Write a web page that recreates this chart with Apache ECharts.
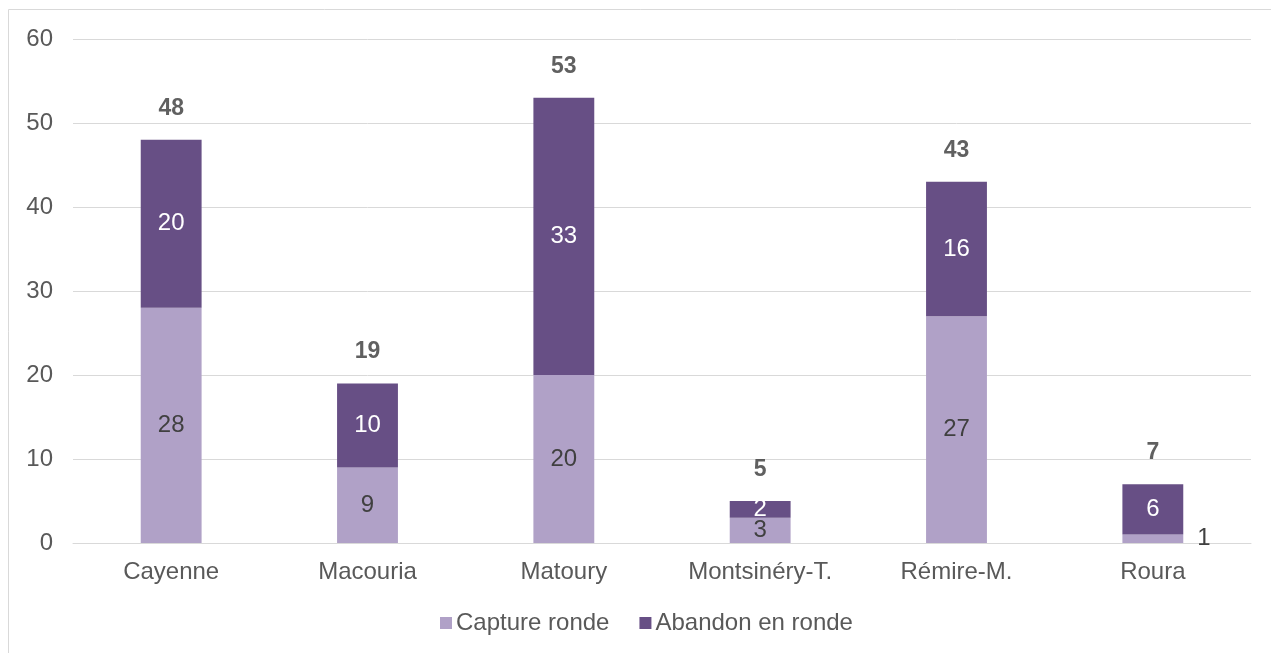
<!DOCTYPE html>
<html>
<head>
<meta charset="utf-8">
<script src="https://cdn.jsdelivr.net/npm/echarts@6/dist/echarts.min.js"></script>
<style>
  html, body { margin: 0; padding: 0; background: #fff; }
  #main { width: 1271px; height: 653px; }
</style>
</head>
<body>
<div id="main"></div>
<script>
// données
var communes = ['Cayenne', 'Macouria', 'Matoury', 'Montsinéry-T.', 'Rémire-M.', 'Roura'];
var captureRonde = [28, 9, 20, 3, 27, 1];
var abandonRonde = [20, 10, 33, 2, 16, 6];
var totaux = [48, 19, 53, 5, 43, 7];
var yTicks = [0, 10, 20, 30, 40, 50, 60];

var police = '"Liberation Sans", Arial, sans-serif';

var chart = echarts.init(document.getElementById('main'));

// le "1" de Roura est placé à droite de la barre
var captureData = captureRonde.map(function (v, i) {
  if (v < 2) {
    return { value: v, label: { position: 'right', distance: 14, color: '#404040' } };
  }
  return v;
});

chart.setOption({
  animation: false,
  textStyle: { fontFamily: police },
  graphic: [{
    type: 'rect',
    shape: { x: 8.5, y: 9.5, width: 1300, height: 700 },
    style: { fill: 'none', stroke: '#d9d9d9', lineWidth: 1 },
    silent: true
  }],
  grid: { left: 73, right: 20, top: 39, bottom: 110 },
  legend: {
    data: ['Capture ronde', 'Abandon en ronde'],
    bottom: 13,
    left: 435,
    itemWidth: 12,
    itemHeight: 12,
    itemGap: 30,
    icon: 'rect',
    textStyle: { fontSize: 24, color: '#595959', fontFamily: police, padding: [0, 0, 0, -1] }
  },
  xAxis: {
    type: 'category',
    data: communes,
    axisLine: { lineStyle: { color: '#d9d9d9', width: 1 } },
    axisTick: { show: false },
    axisLabel: { fontSize: 24, color: '#595959', margin: 17, fontFamily: police }
  },
  yAxis: {
    type: 'value',
    min: yTicks[0],
    max: yTicks[yTicks.length - 1],
    interval: 10,
    axisLine: { show: false },
    axisTick: { show: false },
    splitLine: { lineStyle: { color: '#d9d9d9', width: 1 } },
    axisLabel: { fontSize: 24, color: '#595959', margin: 20, fontFamily: police }
  },
  series: [
    {
      name: 'Capture ronde',
      type: 'bar',
      stack: 'total',
      barWidth: '31%',
      data: captureData,
      itemStyle: { color: '#b0a1c7' },
      label: { show: true, position: 'inside', fontSize: 24, color: '#404040', fontFamily: police }
    },
    {
      name: 'Abandon en ronde',
      type: 'bar',
      stack: 'total',
      barWidth: '31%',
      data: abandonRonde,
      itemStyle: { color: '#674f85' },
      label: { show: true, position: 'inside', fontSize: 24, color: '#ffffff', fontFamily: police }
    },
    {
      name: 'Total',
      type: 'scatter',
      data: totaux,
      symbolSize: 0,
      silent: true,
      label: {
        show: true,
        position: 'top',
        distance: 20,
        fontSize: 23,
        fontWeight: 'bold',
        color: '#383838',
        fontFamily: police
      }
    }
  ]
});
</script>
</body>
</html>
